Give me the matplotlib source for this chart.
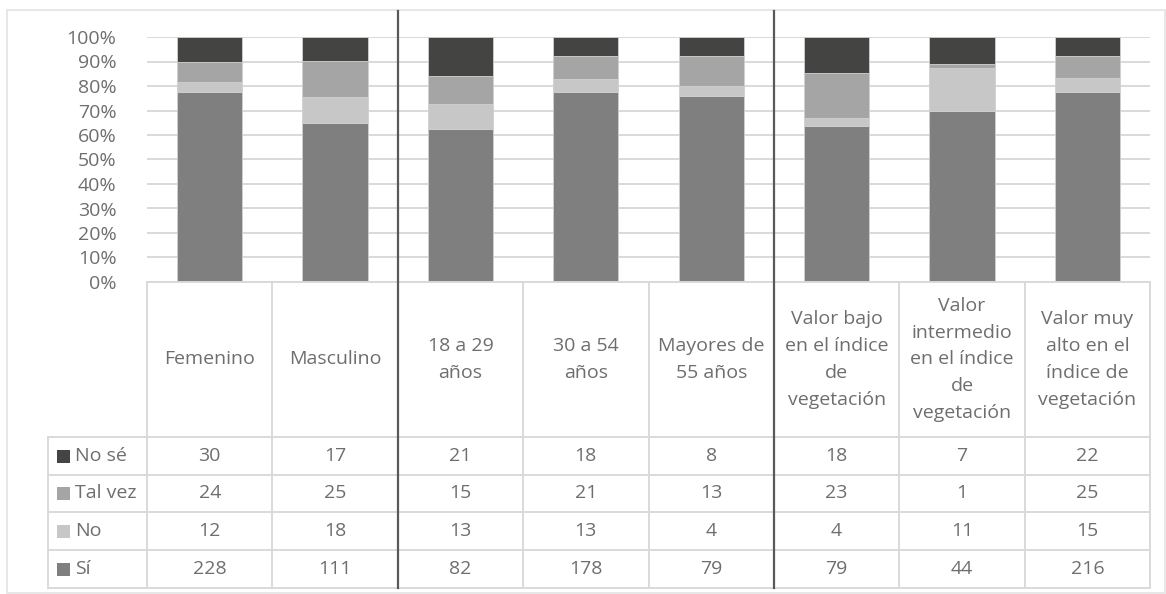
import matplotlib.pyplot as plt
from matplotlib.transforms import blended_transform_factory
from matplotlib.patches import Rectangle
from matplotlib.lines import Line2D

# Data
categories = ['Femenino', 'Masculino', '18 a 29\naños', '30 a 54\naños', 'Mayores de\n55 años',
              'Valor bajo\nen el índice\nde\nvegetación',
              'Valor\nintermedio\nen el índice\nde\nvegetación',
              'Valor muy\nalto en el\níndice de\nvegetación']
si = [228, 111, 82, 178, 79, 79, 44, 216]
no = [12, 18, 13, 13, 4, 4, 11, 15]
tal_vez = [24, 25, 15, 21, 13, 23, 1, 25]
no_se = [30, 17, 21, 18, 8, 18, 7, 22]
series_names = ['Sí', 'No', 'Tal vez', 'No sé']
series_colors = ['#7f7f7f', '#c7c7c7', '#a5a5a5', '#444442']
yticks = [0, 10, 20, 30, 40, 50, 60, 70, 80, 90, 100]

plt.rcParams['font.family'] = ['Open Sans', 'DejaVu Sans']
txt = '#6e6e6e'
grid = '#d9d9d9'
W, H = 1166, 594

def fx(px):
    return px / W

def fy(px):
    return 1 - px / H

fig = plt.figure(figsize=(W / 100, H / 100), dpi=100)
ax = fig.add_axes([fx(147), fy(282), fx(1150) - fx(147), fy(37) - fy(282)])

series = [si, no, tal_vez, no_se]
totals = [sum(v) for v in zip(*series)]
x = list(range(len(categories)))
bottom = [0] * len(categories)
for vals, col in zip(series, series_colors):
    pct = [v / t * 100 for v, t in zip(vals, totals)]
    ax.bar(x, pct, width=0.52, bottom=bottom, color=col, edgecolor='#d0d0d0', linewidth=0.6, zorder=3)
    bottom = [b + p for b, p in zip(bottom, pct)]

ax.set_xlim(-0.5, len(categories) - 0.5)
ax.set_ylim(0, 100)
ax.set_yticks(yticks)
ax.set_yticklabels([f'{t}%' for t in yticks], fontsize=14, color=txt)
ax.tick_params(axis='y', length=0, pad=22)
ax.set_xticks([])
ax.yaxis.grid(True, color=grid, linewidth=1.4, zorder=0)
ax.set_axisbelow(True)
for s in ax.spines.values():
    s.set_visible(False)

# data table
tr = blended_transform_factory(ax.transData, fig.transFigure)
top, head, rows_y = 282, 437, [437, 475, 512, 550, 588]
n = len(categories)
for i in range(n + 1):
    fig.add_artist(Line2D([i - 0.5, i - 0.5], [fy(top), fy(rows_y[-1])], transform=tr, color=grid, lw=1.4))
fig.add_artist(Line2D([-0.5, n - 0.5], [fy(top), fy(top)], transform=tr, color=grid, lw=1.4))
for ry in rows_y:
    fig.add_artist(Line2D([fx(48), fx(1150)], [fy(ry), fy(ry)], transform=fig.transFigure, color=grid, lw=1.4))
fig.add_artist(Line2D([fx(48), fx(48)], [fy(head), fy(rows_y[-1])], transform=fig.transFigure, color=grid, lw=1.4))

for i, c in enumerate(categories):
    fig.text(i, fy((top + head) / 2), c, transform=tr, ha='center', va='center',
             fontsize=14, color=txt, linespacing=1.62)

table_rows = list(zip(series_names, series, series_colors))[::-1]
for r, (name, vals, col) in enumerate(table_rows):
    cy = fy((rows_y[r] + rows_y[r + 1]) / 2)
    fig.add_artist(Rectangle((fx(57), cy - 6.5 / H), 13 / W, 13 / H, transform=fig.transFigure,
                             facecolor=col, edgecolor='none'))
    fig.text(fx(75), cy, name, ha='left', va='center', fontsize=14, color=txt)
    for i, v in enumerate(vals):
        fig.text(i, cy, str(v), transform=tr, ha='center', va='center', fontsize=14, color=txt)

# group dividers
for d in [1.5, 4.5]:
    fig.add_artist(Line2D([d, d], [fy(11), fy(rows_y[-1])], transform=tr, color='#595959', lw=1.6))

# chart frame
fig.add_artist(Rectangle((fx(7), fy(593)), fx(1165) - fx(7), fy(10) - fy(593), transform=fig.transFigure,
                         fill=False, edgecolor='#e3e3e3', lw=1.2))

fig.savefig('out.png', dpi=100)
